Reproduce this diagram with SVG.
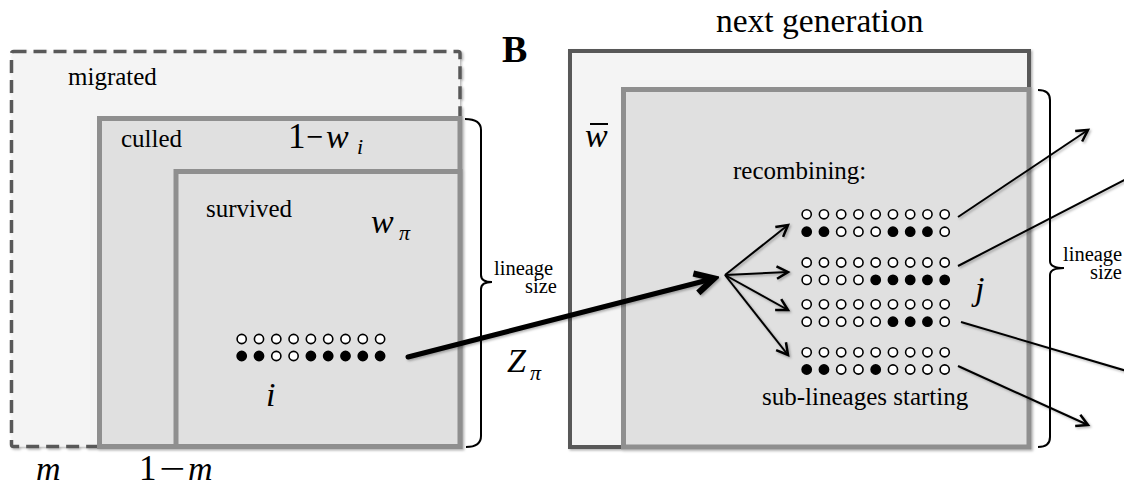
<svg xmlns="http://www.w3.org/2000/svg" width="1124" height="487" viewBox="0 0 1124 487">
<defs>
<style>
.t{font-family:"Liberation Serif","Times New Roman",serif;fill:#000}
.lbl{font-size:25px}
.small{font-size:20.5px}
.mi{font-style:italic;font-size:34px}
.sub{font-style:italic;font-size:22px}
.dash{fill:#f4f4f4;stroke:#595959;stroke-width:3.5;stroke-dasharray:13 7}
.outer{fill:#f4f4f4;stroke:#595959;stroke-width:4}
.inner{fill:#e0e0e0;stroke:#8f8f8f;stroke-width:5}
.o{fill:#fff;stroke:#000;stroke-width:1.6}
.f{fill:#000;stroke:#000;stroke-width:1.6}
.ln{fill:none;stroke:#000;stroke-width:2}
.br{fill:none;stroke:#000;stroke-width:2}
</style>
<filter id="sh" x="-5%" y="-5%" width="110%" height="110%">
<feDropShadow dx="1.5" dy="1.5" stdDeviation="1.2" flood-color="#000" flood-opacity="0.3"/>
</filter>
<marker id="ah" markerUnits="userSpaceOnUse" markerWidth="20" markerHeight="20" refX="0" refY="0" viewBox="-12 -8 14 16" orient="auto">
<path d="M-9,-5 L0,0 L-9,5" fill="none" stroke="#000" stroke-width="2"/>
</marker>
<marker id="ahb" markerUnits="userSpaceOnUse" markerWidth="30" markerHeight="30" refX="0" refY="0" viewBox="-20 -12 24 24" orient="auto">
<path d="M-15,-8 L0,0 L-15,8" fill="none" stroke="#000" stroke-width="5" stroke-linejoin="miter"/>
</marker>
</defs>

<g id="panelA" filter="url(#sh)">
<rect id="migrated" class="dash" x="11.5" y="51.5" width="448.5" height="395" rx="2"/>
<rect id="culled" class="inner" x="99.5" y="118.5" width="360.5" height="328"/>
<rect id="survived" class="inner" x="176" y="171.5" width="284" height="275"/>
</g>

<g id="panelB" filter="url(#sh)">
<rect id="nextgen" class="outer" x="570" y="51" width="459" height="396"/>
<rect id="recomb" class="inner" x="623.5" y="89.5" width="405.5" height="357.5"/>
</g>

<g id="labels">
<text class="t" x="502" y="62" font-size="38" font-weight="bold">B</text>
<text class="t" x="716" y="32" font-size="33.5">next generation</text>
<text class="t lbl" x="68" y="85">migrated</text>
<text class="t lbl" x="121" y="147">culled</text>
<text class="t lbl" x="206" y="217">survived</text>
<text class="t lbl" x="733" y="179">recombining:</text>
<text class="t lbl" x="762" y="405">sub-lineages starting</text>

<text class="t" x="288" y="148" font-size="35">1</text>
<text class="t" x="306" y="148" font-size="34" textLength="17" lengthAdjust="spacingAndGlyphs">−</text>
<text class="t mi" x="326" y="148">w</text>
<text class="t sub" x="357" y="154">i</text>

<text class="t mi" x="371" y="233">w</text>
<text class="t sub" x="399" y="240">π</text>

<text class="t mi" x="266" y="406">i</text>
<text class="t mi" x="507" y="372" font-size="33">Z</text>
<text class="t sub" x="530" y="380">π</text>

<text class="t mi" x="36" y="480">m</text>
<text class="t" x="139" y="480" font-size="35">1</text>
<text class="t" x="159" y="480" font-size="34" textLength="26" lengthAdjust="spacingAndGlyphs">−</text>
<text class="t mi" x="188" y="480">m</text>

<text class="t mi" x="975" y="300">j</text>
<text class="t mi" x="585" y="147">w</text>
<line x1="590" y1="124" x2="608" y2="124" stroke="#000" stroke-width="2"/>

<text class="t small" x="494" y="275">lineage</text>
<text class="t small" x="525" y="293">size</text>
<text class="t small" x="1063" y="261">lineage</text>
<text class="t small" x="1090" y="279">size</text>
</g>

<g id="dotsA">
<g transform="translate(241.7,339)">
<circle class="o" cx="0" cy="0" r="4.6"/><circle class="o" cx="17.3" cy="0" r="4.6"/><circle class="o" cx="34.6" cy="0" r="4.6"/><circle class="o" cx="51.9" cy="0" r="4.6"/><circle class="o" cx="69.2" cy="0" r="4.6"/><circle class="o" cx="86.5" cy="0" r="4.6"/><circle class="o" cx="103.8" cy="0" r="4.6"/><circle class="o" cx="121.1" cy="0" r="4.6"/><circle class="o" cx="138.4" cy="0" r="4.6"/>
<circle class="f" cx="0" cy="17" r="4.6"/><circle class="f" cx="17.3" cy="17" r="4.6"/><circle class="o" cx="34.6" cy="17" r="4.6"/><circle class="o" cx="51.9" cy="17" r="4.6"/><circle class="f" cx="69.2" cy="17" r="4.6"/><circle class="f" cx="86.5" cy="17" r="4.6"/><circle class="f" cx="103.8" cy="17" r="4.6"/><circle class="f" cx="121.1" cy="17" r="4.6"/><circle class="f" cx="138.4" cy="17" r="4.6"/>
</g>
</g>

<g id="dotsB">
<g transform="translate(806.7,214.3)">
<circle class="o" cx="0" cy="0" r="4.6"/><circle class="o" cx="17.25" cy="0" r="4.6"/><circle class="o" cx="34.5" cy="0" r="4.6"/><circle class="o" cx="51.75" cy="0" r="4.6"/><circle class="o" cx="69" cy="0" r="4.6"/><circle class="o" cx="86.25" cy="0" r="4.6"/><circle class="o" cx="103.5" cy="0" r="4.6"/><circle class="o" cx="120.75" cy="0" r="4.6"/><circle class="o" cx="138" cy="0" r="4.6"/>
<circle class="f" cx="0" cy="17.4" r="4.6"/><circle class="f" cx="17.25" cy="17.4" r="4.6"/><circle class="o" cx="34.5" cy="17.4" r="4.6"/><circle class="o" cx="51.75" cy="17.4" r="4.6"/><circle class="o" cx="69" cy="17.4" r="4.6"/><circle class="f" cx="86.25" cy="17.4" r="4.6"/><circle class="f" cx="103.5" cy="17.4" r="4.6"/><circle class="f" cx="120.75" cy="17.4" r="4.6"/><circle class="o" cx="138" cy="17.4" r="4.6"/>
</g>
<g transform="translate(806.7,262.5)">
<circle class="o" cx="0" cy="0" r="4.6"/><circle class="o" cx="17.25" cy="0" r="4.6"/><circle class="o" cx="34.5" cy="0" r="4.6"/><circle class="o" cx="51.75" cy="0" r="4.6"/><circle class="o" cx="69" cy="0" r="4.6"/><circle class="o" cx="86.25" cy="0" r="4.6"/><circle class="o" cx="103.5" cy="0" r="4.6"/><circle class="o" cx="120.75" cy="0" r="4.6"/><circle class="o" cx="138" cy="0" r="4.6"/>
<circle class="o" cx="0" cy="17.4" r="4.6"/><circle class="o" cx="17.25" cy="17.4" r="4.6"/><circle class="o" cx="34.5" cy="17.4" r="4.6"/><circle class="o" cx="51.75" cy="17.4" r="4.6"/><circle class="f" cx="69" cy="17.4" r="4.6"/><circle class="f" cx="86.25" cy="17.4" r="4.6"/><circle class="f" cx="103.5" cy="17.4" r="4.6"/><circle class="f" cx="120.75" cy="17.4" r="4.6"/><circle class="f" cx="138" cy="17.4" r="4.6"/>
</g>
<g transform="translate(806.7,304.3)">
<circle class="o" cx="0" cy="0" r="4.6"/><circle class="o" cx="17.25" cy="0" r="4.6"/><circle class="o" cx="34.5" cy="0" r="4.6"/><circle class="o" cx="51.75" cy="0" r="4.6"/><circle class="o" cx="69" cy="0" r="4.6"/><circle class="o" cx="86.25" cy="0" r="4.6"/><circle class="o" cx="103.5" cy="0" r="4.6"/><circle class="o" cx="120.75" cy="0" r="4.6"/><circle class="o" cx="138" cy="0" r="4.6"/>
<circle class="o" cx="0" cy="17.4" r="4.6"/><circle class="o" cx="17.25" cy="17.4" r="4.6"/><circle class="o" cx="34.5" cy="17.4" r="4.6"/><circle class="o" cx="51.75" cy="17.4" r="4.6"/><circle class="o" cx="69" cy="17.4" r="4.6"/><circle class="f" cx="86.25" cy="17.4" r="4.6"/><circle class="f" cx="103.5" cy="17.4" r="4.6"/><circle class="f" cx="120.75" cy="17.4" r="4.6"/><circle class="o" cx="138" cy="17.4" r="4.6"/>
</g>
<g transform="translate(806.7,352.3)">
<circle class="o" cx="0" cy="0" r="4.6"/><circle class="o" cx="17.25" cy="0" r="4.6"/><circle class="o" cx="34.5" cy="0" r="4.6"/><circle class="o" cx="51.75" cy="0" r="4.6"/><circle class="o" cx="69" cy="0" r="4.6"/><circle class="o" cx="86.25" cy="0" r="4.6"/><circle class="o" cx="103.5" cy="0" r="4.6"/><circle class="o" cx="120.75" cy="0" r="4.6"/><circle class="o" cx="138" cy="0" r="4.6"/>
<circle class="f" cx="0" cy="17.2" r="4.6"/><circle class="f" cx="17.25" cy="17.2" r="4.6"/><circle class="o" cx="34.5" cy="17.2" r="4.6"/><circle class="o" cx="51.75" cy="17.2" r="4.6"/><circle class="f" cx="69" cy="17.2" r="4.6"/><circle class="o" cx="86.25" cy="17.2" r="4.6"/><circle class="o" cx="103.5" cy="17.2" r="4.6"/><circle class="o" cx="120.75" cy="17.2" r="4.6"/><circle class="o" cx="138" cy="17.2" r="4.6"/>
</g>
</g>

<g id="braces">
<path class="br" d="M465,119 Q481,119 481,130 L481,275 Q481,282 492,282 Q481,282 481,289 L481,436 Q481,447 466,447"/>
<path class="br" d="M1038,90 Q1050,90 1050,100 L1050,261 Q1050,268 1064,268 Q1050,268 1050,275 L1050,437 Q1050,447 1038,447"/>
</g>

<g id="connectors" filter="url(#sh)">
<line x1="408" y1="357" x2="714" y2="278.5" stroke="#000" stroke-width="5" stroke-linecap="round" marker-end="url(#ahb)"/>
<line class="ln" x1="725" y1="275" x2="788" y2="225" marker-end="url(#ah)"/>
<line class="ln" x1="725" y1="275" x2="788" y2="272" marker-end="url(#ah)"/>
<line class="ln" x1="725" y1="275" x2="788" y2="310" marker-end="url(#ah)"/>
<line class="ln" x1="725" y1="275" x2="788" y2="355" marker-end="url(#ah)"/>
<line class="ln" x1="958" y1="217" x2="1088" y2="130" marker-end="url(#ah)"/>
<line class="ln" x1="958" y1="266" x2="1130" y2="177"/>
<line class="ln" x1="961" y1="322" x2="1130" y2="372"/>
<line class="ln" x1="958" y1="366" x2="1088" y2="425" marker-end="url(#ah)"/>
</g>
</svg>
